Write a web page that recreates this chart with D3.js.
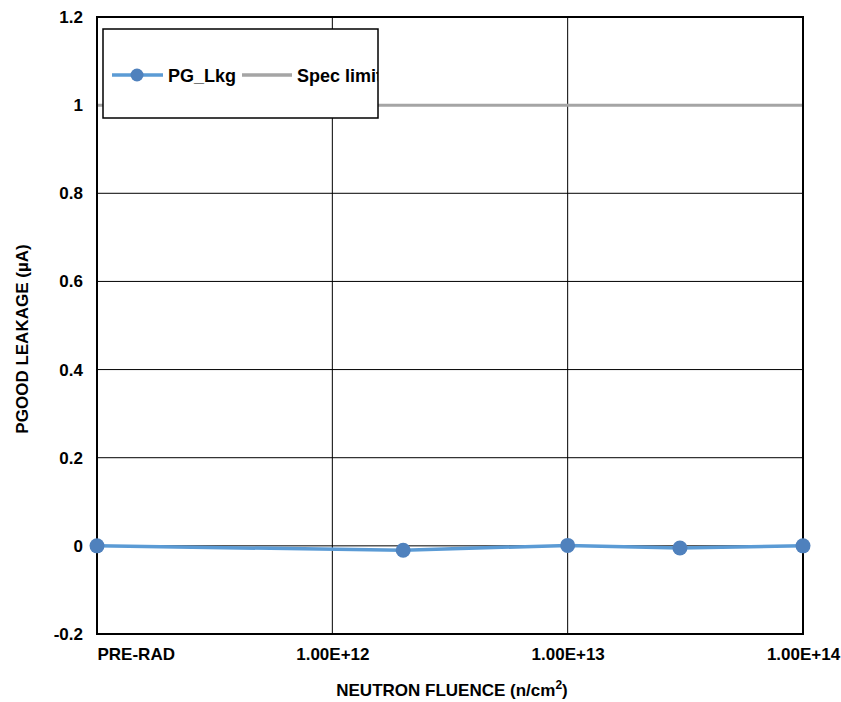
<!DOCTYPE html>
<html><head><meta charset="utf-8">
<script src="https://cdn.jsdelivr.net/npm/d3@7"></script>
<style>body{margin:0;background:#fff;} text{font-family:"Liberation Sans",Arial,sans-serif;font-weight:bold;}</style>
</head><body>
<script>
const fluence = [1e11, 2e12, 1e13, 3e13, 1e14];
const pgLkg = [0, -0.01, 0.001, -0.005, 0];
const specLimit = 1;
const xTicks = [1e11, 1e12, 1e13, 1e14];
const xTickLabels = ["PRE-RAD", "1.00E+12", "1.00E+13", "1.00E+14"];
const yTicks = [-0.2, 0, 0.2, 0.4, 0.6, 0.8, 1, 1.2];

const W = 841, H = 702;
const m = {l: 97, r: 38, t: 17, b: 68};
const svg = d3.select("body").append("svg").attr("width", W).attr("height", H);
const x = d3.scaleLog().domain([1e11, 1e14]).range([m.l, W - m.r]);
const y = d3.scaleLinear().domain([-0.2, 1.2]).range([H - m.b, m.t]);

// gridlines
svg.append("g").selectAll("line.h").data(yTicks).join("line")
  .attr("x1", m.l).attr("x2", W - m.r).attr("y1", d => y(d)).attr("y2", d => y(d))
  .attr("stroke", "#000").attr("stroke-width", 1);
svg.append("g").selectAll("line.v").data(xTicks).join("line")
  .attr("y1", m.t).attr("y2", H - m.b).attr("x1", d => x(d)).attr("x2", d => x(d))
  .attr("stroke", "#000").attr("stroke-width", 1);

// spec limit
svg.append("line").attr("x1", m.l).attr("x2", W - m.r)
  .attr("y1", y(specLimit)).attr("y2", y(specLimit))
  .attr("stroke", "#A5A5A5").attr("stroke-width", 3);

// border
svg.append("rect").attr("x", m.l).attr("y", m.t).attr("width", W - m.r - m.l).attr("height", H - m.b - m.t)
  .attr("fill", "none").attr("stroke", "#000").attr("stroke-width", 2);

// y axis labels
const yAxis = d3.axisLeft(y).tickValues(yTicks).tickSize(0).tickPadding(14)
  .tickFormat(d => String(+d.toFixed(1)));
const gy = svg.append("g").attr("transform", `translate(${m.l},0)`).call(yAxis);
gy.select(".domain").remove();
gy.selectAll("text").attr("font-size", 17).attr("fill", "#000")
  .style("font-family", "Liberation Sans, Arial, sans-serif").style("font-weight", "bold");

// x axis labels
const xAxis = d3.axisBottom(x).tickValues(xTicks).tickSize(0).tickPadding(14)
  .tickFormat((d, i) => xTickLabels[i]);
const gx = svg.append("g").attr("transform", `translate(0,${H - m.b})`).call(xAxis);
gx.select(".domain").remove();
gx.selectAll("text").attr("font-size", 17).attr("fill", "#000")
  .style("font-family", "Liberation Sans, Arial, sans-serif").style("font-weight", "bold")
  .attr("text-anchor", (d, i) => i === 0 ? "start" : "middle");

// series
const pts = fluence.map((f, i) => [f, pgLkg[i]]);
svg.append("path").datum(pts)
  .attr("d", d3.line().x(d => x(d[0])).y(d => y(d[1])))
  .attr("fill", "none").attr("stroke", "#5B9BD5").attr("stroke-width", 3.5);
svg.append("g").selectAll("circle").data(pts).join("circle")
  .attr("cx", d => x(d[0])).attr("cy", d => y(d[1])).attr("r", 7.5)
  .attr("fill", "#4F81BD");

// legend
const lg = svg.append("g");
lg.append("rect").attr("x", 103).attr("y", 29).attr("width", 275).attr("height", 89)
  .attr("fill", "#fff").attr("stroke", "#000").attr("stroke-width", 1.5);
lg.append("line").attr("x1", 112).attr("x2", 163).attr("y1", 75).attr("y2", 75)
  .attr("stroke", "#5B9BD5").attr("stroke-width", 3.5);
lg.append("circle").attr("cx", 137).attr("cy", 75).attr("r", 6.5).attr("fill", "#4F81BD");
lg.append("text").attr("x", 168).attr("y", 82).attr("font-size", 18).text("PG_Lkg");
lg.append("line").attr("x1", 242).attr("x2", 292).attr("y1", 75).attr("y2", 75)
  .attr("stroke", "#A5A5A5").attr("stroke-width", 3.5);
const clip = svg.append("clipPath").attr("id", "lgclip");
clip.append("rect").attr("x", 103).attr("y", 29).attr("width", 275).attr("height", 89);
lg.append("text").attr("x", 297).attr("y", 82).attr("font-size", 18)
  .attr("clip-path", "url(#lgclip)").text("Spec limit");

// axis titles
svg.append("text").attr("transform", "translate(28,339) rotate(-90)")
  .attr("text-anchor", "middle").attr("font-size", 17).text("PGOOD LEAKAGE (µA)");
const xt = svg.append("text").attr("x", 452).attr("y", 696).attr("text-anchor", "middle").attr("font-size", 17);
xt.append("tspan").text("NEUTRON FLUENCE (n/cm");
xt.append("tspan").attr("font-size", 12).attr("dy", -7).text("2");
xt.append("tspan").attr("dy", 7).text(")");
</script>
</body></html>
